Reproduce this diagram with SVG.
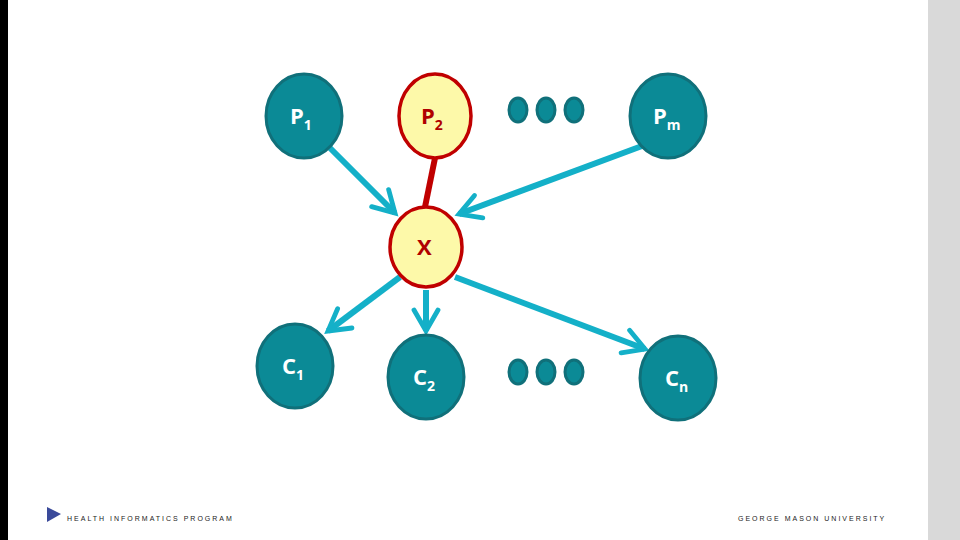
<svg xmlns="http://www.w3.org/2000/svg" width="960" height="540" viewBox="0 0 960 540">
<style>
.t{fill:#0b8a96;stroke:#10707a;stroke-width:3}
.y{fill:#fdf9a9;stroke:#c00000;stroke-width:3.5}
.w{font-family:"Open Sans","Liberation Sans",sans-serif;font-weight:bold;font-size:22px;fill:#fff}
.r{font-family:"Open Sans","Liberation Sans",sans-serif;font-weight:bold;font-size:22px;fill:#b00000}
.s{font-size:14px}
.a{stroke:#14b0c8;stroke-width:6;fill:none;marker-end:url(#h)}
.f{font-family:"Liberation Sans",sans-serif;font-size:7px;fill:#222;letter-spacing:2px}
</style>
<defs>
<marker id="h" viewBox="0 0 10 10" refX="8" refY="5" markerWidth="5" markerHeight="5" orient="auto" markerUnits="strokeWidth">
<path d="M1,1 L8,5 L1,9" fill="none" stroke="#14b0c8" stroke-width="1.6" stroke-linecap="round"/>
</marker>
</defs>
<rect width="960" height="540" fill="#fff"/>
<rect x="0" y="0" width="8" height="540" fill="#000"/>
<rect x="928" y="0" width="32" height="540" fill="#d9d9d9"/>
<g id="connectors">
<line class="a" x1="330" y1="148" x2="395" y2="213"/>
<line class="a" x1="642" y1="146" x2="459" y2="214"/>
<line class="a" x1="400" y1="277" x2="328" y2="331"/>
<line class="a" x1="426" y1="290" x2="426" y2="331"/>
<line class="a" x1="455" y1="277" x2="645" y2="349"/>
<line x1="435" y1="158" x2="425" y2="207" stroke="#c00000" stroke-width="6"/>
</g>
<g id="P1"><ellipse class="t" cx="304" cy="116" rx="38" ry="42"/><text class="w" x="290" y="124">P<tspan class="s" dy="6">1</tspan></text></g>
<g id="P2"><ellipse class="y" cx="435" cy="116" rx="36" ry="42"/><text class="r" x="421" y="124">P<tspan class="s" dy="6">2</tspan></text></g>
<g id="dotsTop"><ellipse class="t" cx="518" cy="110" rx="9" ry="12"/><ellipse class="t" cx="546" cy="110" rx="9" ry="12"/><ellipse class="t" cx="574" cy="110" rx="9" ry="12"/></g>
<g id="Pm"><ellipse class="t" cx="668" cy="116" rx="38" ry="42"/><text class="w" x="653" y="124">P<tspan class="s" dy="6">m</tspan></text></g>
<g id="X"><ellipse class="y" cx="426" cy="247" rx="36" ry="40"/><text class="r" x="417" y="255">X</text></g>
<g id="C1"><ellipse class="t" cx="295" cy="366" rx="38" ry="42"/><text class="w" x="282" y="374">C<tspan class="s" dy="6">1</tspan></text></g>
<g id="C2"><ellipse class="t" cx="426" cy="377" rx="38" ry="42"/><text class="w" x="413" y="385">C<tspan class="s" dy="6">2</tspan></text></g>
<g id="dotsBottom"><ellipse class="t" cx="518" cy="372" rx="9" ry="12"/><ellipse class="t" cx="546" cy="372" rx="9" ry="12"/><ellipse class="t" cx="574" cy="372" rx="9" ry="12"/></g>
<g id="Cn"><ellipse class="t" cx="678" cy="378" rx="38" ry="42"/><text class="w" x="665" y="386">C<tspan class="s" dy="6">n</tspan></text></g>
<g id="footer">
<polygon points="47,507 61,514 47,522" fill="#3a4a9a"/>
<text class="f" x="67" y="521">HEALTH INFORMATICS PROGRAM</text>
<text class="f" x="738" y="521">GEORGE MASON UNIVERSITY</text>
</g>
</svg>
